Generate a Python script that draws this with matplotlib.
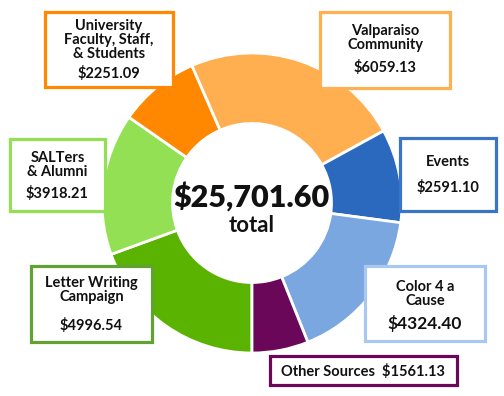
import matplotlib.pyplot as plt
from matplotlib.patches import Rectangle

# slices, clockwise from the bottom
names = ['Letter Writing\nCampaign', 'SALTers\n& Alumni',
         'University\nFaculty, Staff,\n& Students', 'Valparaiso\nCommunity',
         'Events', 'Color 4 a\nCause', 'Other Sources']
amounts = [4996.54, 3918.21, 2251.09, 6059.13, 2591.10, 4324.40, 1561.13]
wedge_colors = ['#5ab300', '#93e055', '#ff8800', '#ffaf4f',
                '#2b69be', '#7ba7e0', '#6a0759']
box_colors = ['#62a232', '#93e055', '#ff8800', '#ffb050',
              '#3a74c6', '#a9c8ef', '#6a0759']
total_text = '$25,701.60'

plt.rcParams['font.family'] = ['Lato', 'DejaVu Sans']

fig = plt.figure(figsize=(5.04, 3.96), dpi=100)
ax = fig.add_axes([0, 0, 1, 1])

H = 396
cx, cy, R = 252, H - 203, 150
ax.pie(amounts, colors=wedge_colors, startangle=-90, counterclock=False,
       radius=R, center=(cx, cy),
       wedgeprops=dict(width=R * 0.47, edgecolor='white', linewidth=2))

ax.text(cx, H - 197, total_text, ha='center', va='center',
        fontsize=22, fontweight='heavy', color='#111111')
ax.text(cx, H - 226, 'total', ha='center', va='center',
        fontsize=16, fontweight='bold', color='#111111')

# box layout in pixels: x0, y0, x1, y1, label y, value y, value size
boxes = [
    (31, 266, 152, 342, 289.5, 325, 10.5),
    (10, 139, 105, 211, 164.5, 193, 10.5),
    (45, 12, 173, 87, 40, 73, 10.5),
    (320, 12, 450, 88, 37.5, 68, 10.5),
    (400, 138, 496, 211, 162, 188, 10.5),
    (365, 266, 485, 341, 294, 323, 12.5),
]

for i, (x0, y0, x1, y1, ly, vy, vs) in enumerate(boxes):
    ax.add_patch(Rectangle((x0, H - y1), x1 - x0, y1 - y0, facecolor='white',
                           edgecolor=box_colors[i], linewidth=2.3, zorder=5))
    xm = (x0 + x1) / 2
    ax.text(xm, H - ly, names[i], ha='center', va='center', fontsize=10.5,
            fontweight='bold', color='#111111', linespacing=1.0, zorder=6)
    ax.text(xm, H - vy, '$%.2f' % amounts[i], ha='center', va='center',
            fontsize=vs, fontweight='bold', color='#111111', zorder=6)

# single-line box for the last slice
ax.add_patch(Rectangle((270, H - 385), 187, 29, facecolor='white',
                       edgecolor=box_colors[6], linewidth=2.3, zorder=5))
ax.text(363, H - 371, '%s  $%.2f' % (names[6], amounts[6]), ha='center',
        va='center', fontsize=10.5, fontweight='bold', color='#111111', zorder=6)

ax.set_xlim(0, 504)
ax.set_ylim(0, H)
ax.set_aspect('equal')
ax.axis('off')

fig.savefig('out.png', dpi=100)
